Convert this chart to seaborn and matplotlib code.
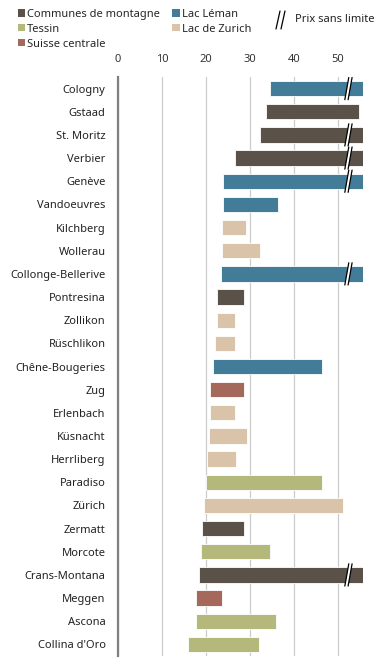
import numpy as np
import pandas as pd
import matplotlib
matplotlib.use("Agg")
import matplotlib.pyplot as plt
from matplotlib.patches import Patch, Polygon
from matplotlib.lines import Line2D
import seaborn as sns

communes = ["Cologny", "Gstaad", "St. Moritz", "Verbier", "Genève", "Vandoeuvres",
            "Kilchberg", "Wollerau", "Collonge-Bellerive", "Pontresina", "Zollikon",
            "Rüschlikon", "Chêne-Bougeries", "Zug", "Erlenbach", "Küsnacht",
            "Herrliberg", "Paradiso", "Zürich", "Zermatt", "Morcote", "Crans-Montana",
            "Meggen", "Ascona", "Collina d'Oro"]
price_min = [34.6, 33.6, 32.2, 26.7, 23.8, 23.8, 23.7, 23.7, 23.4, 22.4, 22.4, 22.1,
             21.6, 20.8, 20.8, 20.7, 20.2, 19.9, 19.5, 19.1, 18.8, 18.3, 17.7, 17.7, 16.0]
# np.nan = prix sans limite
price_max = [np.nan, 54.7, np.nan, np.nan, np.nan, 36.4, 29.2, 32.3, np.nan, 28.6, 26.7, 26.7,
             46.4, 28.7, 26.7, 29.3, 26.8, 46.3, 51.1, 28.6, 34.6, np.nan, 23.6, 35.8, 32.1]
regions = ["Lac Léman", "Communes de montagne", "Communes de montagne", "Communes de montagne",
           "Lac Léman", "Lac Léman", "Lac de Zurich", "Lac de Zurich", "Lac Léman",
           "Communes de montagne", "Lac de Zurich", "Lac de Zurich", "Lac Léman",
           "Suisse centrale", "Lac de Zurich", "Lac de Zurich", "Lac de Zurich", "Tessin",
           "Lac de Zurich", "Communes de montagne", "Tessin", "Communes de montagne",
           "Suisse centrale", "Tessin", "Tessin"]
region_colors = {"Communes de montagne": "#5a5148", "Lac Léman": "#437c99",
                 "Tessin": "#b4b87b", "Lac de Zurich": "#d9c4aa",
                 "Suisse centrale": "#a4695a"}
legend_order = ["Communes de montagne", "Tessin", "Suisse centrale", "Lac Léman", "Lac de Zurich"]
xticks = [0, 10, 20, 30, 40, 50]
XMAX = 55.6
BREAK_X = 52.0

df = pd.DataFrame({"commune": communes, "lo": price_min, "hi": price_max, "region": regions})
df["unlimited"] = df["hi"].isna()
df["hi_plot"] = df["hi"].fillna(XMAX)

sns.set_theme(style="white")
plt.rcParams["font.family"] = ["Noto Sans", "DejaVu Sans"]
FS = 8

fig = plt.figure(figsize=(3.76, 6.66), dpi=100)
ax = fig.add_axes([118 / 376, 1 - 656 / 666, (XMAX / 50 * 220) / 376, (656 - 77) / 666])

pal = {c: region_colors[r] for c, r in zip(communes, regions)}
sns.barplot(data=df, x="hi_plot", y="commune", hue="commune", palette=pal,
            dodge=False, legend=False, width=0.66, ax=ax, orient="h", saturation=1,
            edgecolor="white", linewidth=0.6)

for p in ax.patches:
    idx = int(round(p.get_y() + p.get_height() / 2))
    lo = df["lo"].iloc[idx]
    hi = df["hi_plot"].iloc[idx]
    p.set_x(lo)
    p.set_width(hi - lo)

ax.set_xlim(0, XMAX)
ax.set_ylim(len(communes) - 0.5, -0.5)
ax.xaxis.tick_top()
ax.set_xticks(xticks)
ax.tick_params(axis="x", length=0, labelsize=FS, colors="#333333", pad=9)
ax.tick_params(axis="y", length=0, labelsize=FS, colors="#222222", pad=9)
ax.set_xlabel("")
ax.set_ylabel("")
ax.grid(axis="x", color="#cccccc", linewidth=0.9)
ax.set_axisbelow(True)
for s in ["top", "right", "bottom"]:
    ax.spines[s].set_visible(False)
ax.spines["left"].set_color("#808080")
ax.spines["left"].set_linewidth(1.6)

# break marks for unlimited prices
dx, gap, hh = 0.9, 0.75, 0.48
for i, row in df.iterrows():
    if row["unlimited"]:
        x0 = BREAK_X
        poly = Polygon([(x0 - dx / 2, i + hh), (x0 + dx / 2, i - hh),
                        (x0 + dx / 2 + gap, i - hh), (x0 - dx / 2 + gap, i + hh)],
                       closed=True, facecolor="white", edgecolor="none", zorder=5)
        ax.add_patch(poly)
        for off in (0, gap):
            ax.add_line(Line2D([x0 - dx / 2 + off, x0 + dx / 2 + off], [i + hh, i - hh],
                               color="black", linewidth=0.9, zorder=6))

handles = [Patch(facecolor=region_colors[r], edgecolor="none") for r in legend_order]
fig.legend(handles, legend_order, ncol=2, loc="upper left", bbox_to_anchor=(10 / 376, 1 - 1 / 666),
           frameon=False, fontsize=FS, handlelength=0.65, handleheight=0.65,
           handletextpad=0.2, columnspacing=1.1, labelspacing=0.35, borderpad=0.2)

# legend entry for the break marks
lx, ly = 276 / 376, 1 - 20 / 666
for off in (0, 5 / 376):
    fig.add_artist(Line2D([lx + off, lx + off + 4 / 376], [ly - 9 / 666, ly + 9 / 666],
                          color="black", linewidth=0.9, transform=fig.transFigure))
fig.text(295 / 376, ly, "Prix sans limite", fontsize=FS, color="#222222",
         ha="left", va="center")

fig.savefig("out.png", dpi=100)
